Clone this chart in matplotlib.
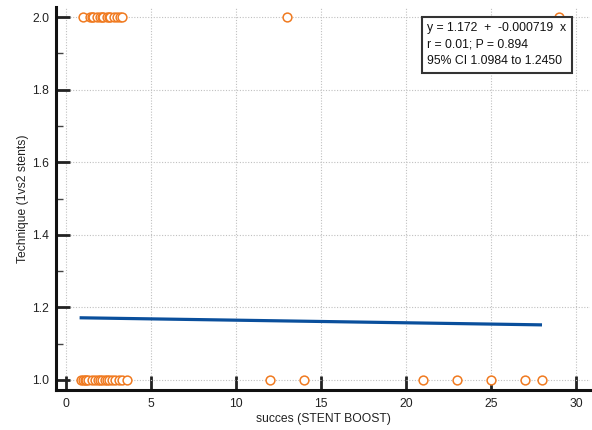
import matplotlib
matplotlib.use("Agg")
import matplotlib.pyplot as plt
import numpy as np

plt.rcParams['font.family'] = ['Liberation Sans', 'DejaVu Sans']

# Data
x_top = [1.0, 1.4, 1.5, 1.6, 1.8, 2.0, 2.1, 2.2, 2.4, 2.5, 2.6, 2.8, 3.0, 3.2, 3.3, 13.0, 29.0]
y_top = [2.0] * len(x_top)
x_bot = [0.9, 1.0, 1.1, 1.2, 1.3, 1.5, 1.7, 1.9, 2.0, 2.1, 2.3, 2.4, 2.5, 2.7, 2.9,
         3.1, 3.3, 3.6, 12.0, 14.0, 21.0, 23.0, 25.0, 27.0, 28.0]
y_bot = [1.0] * len(x_bot)

intercept = 1.172
slope = -0.000719
line_x_range = [0.8, 28.0]

stats_lines = ["y = 1.172  +  -0.000719  x",
               "r = 0.01; P = 0.894",
               "95% CI 1.0984 to 1.2450"]

x_label = "succes (STENT BOOST)"
y_label = "Technique (1vs2 stents)"
x_ticks = [0, 5, 10, 15, 20, 25, 30]
y_ticks = [1.0, 1.2, 1.4, 1.6, 1.8, 2.0]

fig = plt.figure(figsize=(5.92, 4.30), dpi=100)
ax = fig.add_axes([56/592, 40/430, 534/592, 383/430])

ax.set_xlim(-10/17, 534/17 - 10/17)
ax.set_ylim(1 - 10/363, 2 + 10/363)

ax.grid(True, color='#c0c0c0', linestyle=(0, (1, 1.5)), linewidth=0.8)
ax.set_axisbelow(True)

lx = np.array(line_x_range)
ax.plot(lx, intercept + slope * lx, color='#0a4f9c', linewidth=2.3, solid_capstyle='butt', zorder=2)

xs = x_top + x_bot
ys = y_top + y_bot
ax.scatter(xs, ys, s=40, facecolors='white', edgecolors='#f07a20', linewidths=1.1, zorder=3)

for s in ['top', 'right']:
    ax.spines[s].set_visible(False)
for s in ['left', 'bottom']:
    ax.spines[s].set_linewidth(2.2)
    ax.spines[s].set_color('#111111')

ax.set_xticks(x_ticks)
ax.set_yticks(y_ticks)
ax.set_yticks(np.arange(1.1, 2.0, 0.2), minor=True)
ax.set_yticklabels([f"{v:.1f}" for v in y_ticks])
ax.tick_params(axis='x', direction='in', length=10, width=2, labelsize=8.7, pad=6, colors='#222222')
ax.tick_params(axis='y', which='major', direction='in', length=10, width=2, labelsize=8.7, pad=5, colors='#222222')
ax.tick_params(axis='y', which='minor', direction='in', length=5, width=1, colors='#444444')

ax.set_xlabel(x_label, fontsize=8.7, color='#222222')
ax.set_ylabel(y_label, fontsize=8.7, color='#222222')
ax.xaxis.label.set_va('center')
ax.yaxis.label.set_va('center')
ax.xaxis.set_label_coords(0.5, (430 - 419 - 40) / 383)
ax.yaxis.set_label_coords((23 - 56) / 534, 0.5)

ax.text(0.695, 0.960, "\n".join(stats_lines), transform=ax.transAxes, fontsize=8.8,
        va='top', ha='left', linespacing=1.5, color='#111111', zorder=5,
        bbox=dict(boxstyle='square,pad=0.45', facecolor='white', edgecolor='#333333', linewidth=1.5))

fig.savefig("out.png", dpi=100)
